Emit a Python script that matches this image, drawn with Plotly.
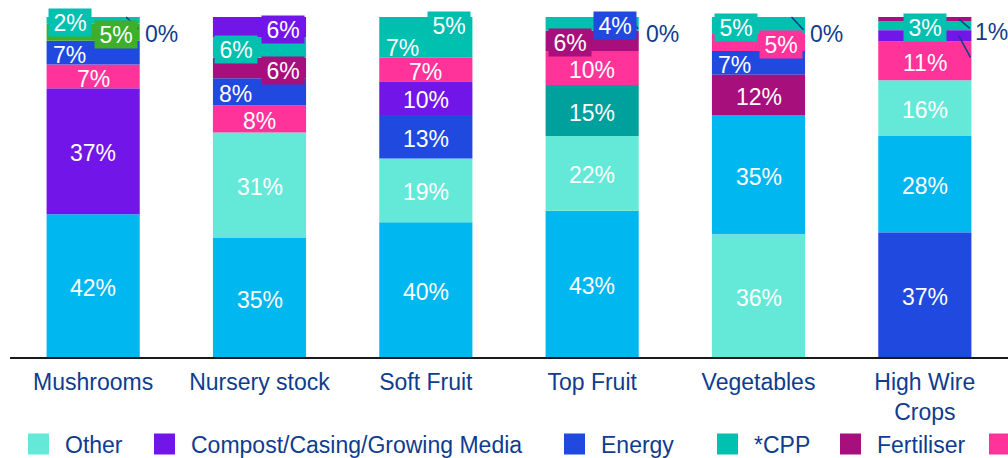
import plotly.graph_objects as go

# ---------------- data ----------------
categories = ["Mushrooms", "Nursery stock", "Soft Fruit", "Top Fruit", "Vegetables", "High Wire<br>Crops"]

labour     = [42, 35, 39.6, 43, 35, 28.4]
other      = [None, 31, 18.8, 22, 36, 16.4]
storage    = [None, None, None, 15, None, None]
packaging  = [7, 8, 7.0, 10, 5, 11.4]
energy     = [7, 8, 12.8, 0, 7, 36.6]
fertiliser = [0, 6, None, 6, 12, 1.2]
cpp        = [2, 6, 7.0, 4, 5, 2.7]
substrate  = [None, None, 5.0, None, None, None]
compost    = [37, 6, 9.8, None, 0, 3.3]
spawn      = [5, None, None, None, None, None]

series_keys  = ["labour", "other", "storage", "packaging", "energy", "fertiliser", "cpp", "substrate", "compost", "spawn"]
series_names = ["Labour", "Other", "Storage", "Packaging", "Energy", "Fertiliser", "*CPP", "Substrate",
                "Compost/Casing/Growing Media", "Spawn"]
series_vals  = [labour, other, storage, packaging, energy, fertiliser, cpp, substrate, compost, spawn]

# ---------------- style ----------------
colors = {
    "labour": "#00B7F0", "other": "#64E9D8", "storage": "#00A19D", "packaging": "#FF3399",
    "energy": "#2049E0", "fertiliser": "#A70F7C", "cpp": "#00C0B0", "substrate": "#00BFAF",
    "compost": "#7215E8", "spawn": "#3EAE2B",
}
TXT = "#0F3C8E"
FONT = "Liberation Sans, Arial, sans-serif"
FS = 23

W, H = 1008, 458
L, R, T, B = 10, 0, 17, 101
plot_w = W - L - R
plot_h = H - T - B

# legends actually visible (series key -> legend id, swatch centre px)
legend_slots = {
    "other": ("legend", 37),
    "compost": ("legend2", 163),
    "energy": ("legend3", 573),
    "cpp": ("legend4", 726),
    "fertiliser": ("legend5", 849),
    "packaging": ("legend6", 998),
}
LEGEND_Y_PX = 444
LEGEND_ITEMWIDTH = 43
LEGEND_SYMBOL_OFFSET = 25

# label placement tweaks: (series, category index) -> options
label_styles = {
    ("energy", 0): dict(dx=-24),
    ("spawn", 0): dict(dx=23, box=True),
    ("cpp", 0): dict(dx=-23, box=True),
    ("fertiliser", 0): dict(leader=(33, 14, 14, 35, 15), where="top"),
    ("energy", 1): dict(dx=-24),
    ("fertiliser", 1): dict(dx=23, box=True),
    ("cpp", 1): dict(dx=-24, box=True),
    ("compost", 1): dict(dx=23, box=True),
    ("cpp", 2): dict(dx=-23),
    ("substrate", 2): dict(dx=23, dy=2, box=True),
    ("fertiliser", 3): dict(dx=-22, box=True),
    ("cpp", 3): dict(dx=23, box=True, boxcolor=colors["energy"]),
    ("energy", 3): dict(leader=(35, 13, 14, 35, 15), where="top"),
    ("energy", 4): dict(dx=-24),
    ("packaging", 4): dict(dx=22, box=True),
    ("cpp", 4): dict(dx=-23, box=True),
    ("compost", 4): dict(leader=(33, 14, 15, 35, 15), where="top"),
    ("cpp", 5): dict(box=True),
    ("fertiliser", 5): dict(leader=(34, 13, 11, 33, 11), where="mid"),
    ("compost", 5): dict(leader=(34, 13, 24, None, None), where="mid"),
}
LABEL_DY = -2

# ---------------- stacking (each bar sorted by value, largest at bottom) ----------------
data = dict(zip(series_keys, series_vals))
bases = {k: [None] * len(categories) for k in series_keys}
for i in range(len(categories)):
    items = [(k, data[k][i]) for k in series_keys if data[k][i] is not None]
    items.sort(key=lambda kv: -kv[1])
    cum = 0.0
    for k, v in items:
        bases[k][i] = cum
        cum += v

fig = go.Figure()
for key, name in zip(series_keys, series_names):
    xs, ys, bs = [], [], []
    for i, cat in enumerate(categories):
        v = data[key][i]
        if v is None:
            continue
        xs.append(cat)
        ys.append(v)
        bs.append(bases[key][i])
    fig.add_trace(go.Bar(
        x=xs, y=ys, base=bs, name=name,
        marker=dict(color=colors[key], line=dict(width=0), opacity=1),
        width=0.56, showlegend=False, hoverinfo="skip",
    ))

# legend entries (square swatches, larger than the default bar swatch)
for key, name in zip(series_keys, series_names):
    slot = legend_slots.get(key)
    if not slot:
        continue
    fig.add_trace(go.Scatter(
        x=[None], y=[None], mode="markers", name=name, legend=slot[0],
        marker=dict(symbol="square", size=16, color=colors[key],
                    line=dict(width=5, color=colors[key])),
        showlegend=True, hoverinfo="skip",
    ))

# ---------------- labels ----------------
leader_anns, label_anns = [], []
for key in series_keys:
    for i, cat in enumerate(categories):
        v = data[key][i]
        if v is None:
            continue
        b = bases[key][i]
        txt = f"{round(v)}%"
        st = label_styles.get((key, i), {})
        if "leader" in st:
            dx, lx, ly, tx, ty = st["leader"]
            yv = b + v if st.get("where") == "top" else b + v / 2
            leader_anns.append(dict(
                x=cat, y=yv, xref="x", yref="y", xshift=dx, text=" ",
                font=dict(size=2), bgcolor="rgba(0,0,0,0)",
                showarrow=True, arrowhead=0, arrowwidth=1.5, arrowcolor=TXT,
                ax=lx, ay=ly, axref="pixel", ayref="pixel", standoff=0, startstandoff=0,
            ))
            if tx is not None:
                label_anns.append(dict(
                    x=cat, y=yv, xref="x", yref="y", xshift=dx + tx, yshift=-ty + LABEL_DY,
                    text=txt, showarrow=False,
                    font=dict(family=FONT, size=FS, color=TXT),
                ))
            continue
        ann = dict(
            x=cat, y=b + v / 2, xref="x", yref="y",
            xshift=st.get("dx", 0), yshift=st.get("dy", 0) + LABEL_DY,
            text=txt, showarrow=False,
            font=dict(family=FONT, size=FS, color="white"),
        )
        if st.get("box"):
            ann.update(bgcolor=st.get("boxcolor", colors[key]), width=40, height=25, borderpad=1)
        label_anns.append(ann)

# ---------------- layout ----------------
layout_legends = {}
for key, (lid, cx) in legend_slots.items():
    layout_legends[lid] = dict(
        orientation="h", xanchor="left", yanchor="middle",
        x=(cx - LEGEND_SYMBOL_OFFSET - L) / plot_w, y=(H - B - LEGEND_Y_PX) / plot_h,
        font=dict(family=FONT, size=FS, color=TXT), itemwidth=LEGEND_ITEMWIDTH,
        bgcolor="rgba(0,0,0,0)", borderwidth=0, itemclick=False, itemdoubleclick=False,
    )

fig.update_layout(
    width=W, height=H,
    margin=dict(l=L, r=R, t=T, b=B, autoexpand=False),
    paper_bgcolor="white", plot_bgcolor="white",
    barmode="overlay",
    font=dict(family=FONT, size=FS, color=TXT),
    xaxis=dict(
        type="category", categoryorder="array", categoryarray=categories,
        range=[-0.5, 5.5], showline=True, linecolor="#1a1a1a", linewidth=1.5,
        ticks="", showgrid=False, zeroline=False, ticklabelstandoff=4,
        tickfont=dict(family=FONT, size=FS, color=TXT),
    ),
    yaxis=dict(range=[0, 100], visible=False, showgrid=False, zeroline=False),
    annotations=leader_anns + label_anns,
    **layout_legends,
)

fig.write_html(
    "out.html",
    config={"displayModeBar": False},
    post_script="document.body.style.margin='0px';document.body.style.overflow='hidden';",
)
